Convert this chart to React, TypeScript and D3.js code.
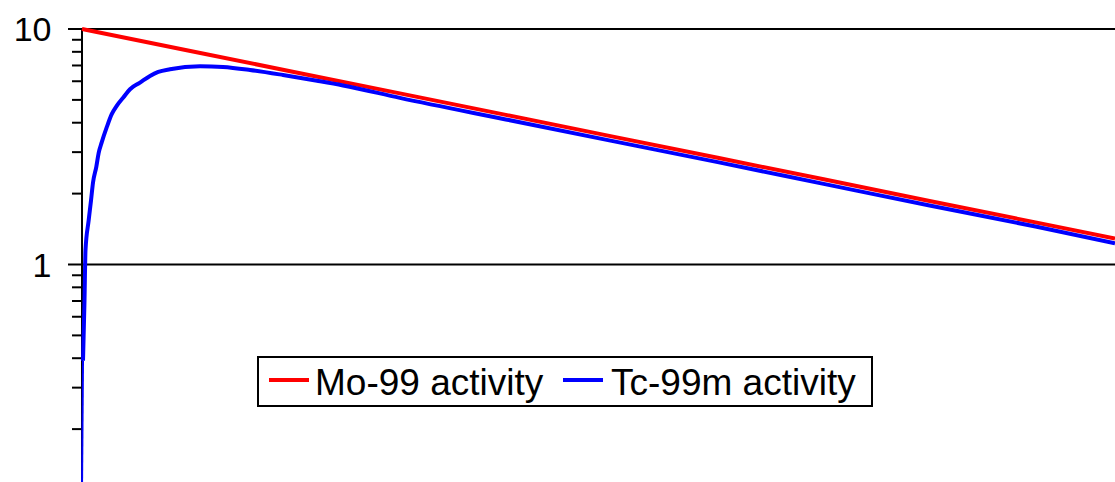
import React from "react";
import * as d3 from "d3";

// Time (hours) and activity values
const moTime = [0, 20, 40, 60, 80, 100, 120, 140, 160, 180, 195];
const moActivity = [10, 8.11, 6.57, 5.33, 4.32, 3.5, 2.84, 2.3, 1.86, 1.51, 1.29];

const tcTime = [
  0, 0.19, 0.47, 0.66, 1.26, 1.7, 2.08, 2.7, 3.15, 3.72, 4.66, 5.61, 6.55, 7.8, 9.06,
  10.95, 12.84, 14.4, 16.61, 22.28, 26.62, 31.72, 37.95, 44.37, 49.27, 60, 80, 100,
  120, 140, 160, 180, 195,
];
const tcActivity = [
  0, 0.39, 0.7, 1.15, 1.54, 1.87, 2.23, 2.6, 2.98, 3.3, 3.82, 4.35, 4.72, 5.12, 5.55,
  5.92, 6.32, 6.57, 6.75, 6.95, 6.9, 6.7, 6.38, 6.03, 5.76, 5.1, 4.13, 3.35, 2.72,
  2.2, 1.78, 1.45, 1.23,
];

const majorTicks = [10, 1];
const minorTicks = [9, 8, 7, 6, 5, 4, 3, 2, 0.9, 0.8, 0.7, 0.6, 0.5, 0.4, 0.3, 0.2];
const seriesNames = ["Mo-99 activity", "Tc-99m activity"];
const seriesColors = ["#ff0000", "#0000ff"];

const W = 1115;
const H = 482;

export default function App() {
  const x = d3.scaleLinear().domain([0, 195]).range([82, 1115]);
  const y = d3.scaleLog().domain([0.1, 10]).range([500, 29]);
  const yv = (v: number) => (v > 0 ? y(v) : H + 10);

  const moData = moTime.map((t, i) => [t, moActivity[i]] as [number, number]);
  const tcData = tcTime.map((t, i) => [t, tcActivity[i]] as [number, number]);

  const lineLin = d3
    .line<[number, number]>()
    .x((d) => x(d[0]))
    .y((d) => yv(d[1]));
  const lineSmooth = d3
    .line<[number, number]>()
    .x((d) => x(d[0]))
    .y((d) => yv(d[1]))
    .curve(d3.curveMonotoneX);

  const font = "'Liberation Sans', Arial, sans-serif";

  return (
    <svg
      width={W}
      height={H}
      style={{ position: "absolute", left: 0, top: 0, display: "block", background: "#fff" }}
    >
      {/* gridlines */}
      {majorTicks.map((v) => (
        <line key={"g" + v} x1={82} x2={W} y1={y(v)} y2={y(v)} stroke="#000" strokeWidth={2} />
      ))}
      {/* axis */}
      <line x1={82} x2={82} y1={y(10)} y2={H} stroke="#000" strokeWidth={2} />
      {majorTicks.map((v) => (
        <line key={"mt" + v} x1={68} x2={82} y1={y(v)} y2={y(v)} stroke="#000" strokeWidth={2} />
      ))}
      {minorTicks.map((v) => (
        <line key={"nt" + v} x1={72} x2={82} y1={y(v)} y2={y(v)} stroke="#000" strokeWidth={2} />
      ))}
      {majorTicks.map((v) => (
        <text
          key={"l" + v}
          x={51.5}
          y={y(v) + 12}
          textAnchor="end"
          fontFamily={font}
          fontSize={34}
          fill="#000"
        >
          {String(v)}
        </text>
      ))}
      {/* series */}
      <path d={lineLin(moData) || ""} fill="none" stroke={seriesColors[0]} strokeWidth={4} />
      <path d={lineLin(tcData.slice(0, 2)) || ""} fill="none" stroke={seriesColors[1]} strokeWidth={2} />
      <path d={lineSmooth(tcData.slice(1)) || ""} fill="none" stroke={seriesColors[1]} strokeWidth={4} />
      {/* legend */}
      <rect x={258} y={357} width={614} height={49} fill="#fff" stroke="#000" strokeWidth={2} />
      <line x1={269} x2={309} y1={380} y2={380} stroke={seriesColors[0]} strokeWidth={4} />
      <text x={315} y={395} fontFamily={font} fontSize={37} fill="#000">
        {seriesNames[0]}
      </text>
      <line x1={563} x2={603} y1={380} y2={380} stroke={seriesColors[1]} strokeWidth={4} />
      <text x={611} y={395} fontFamily={font} fontSize={37} fill="#000">
        {seriesNames[1]}
      </text>
    </svg>
  );
}
